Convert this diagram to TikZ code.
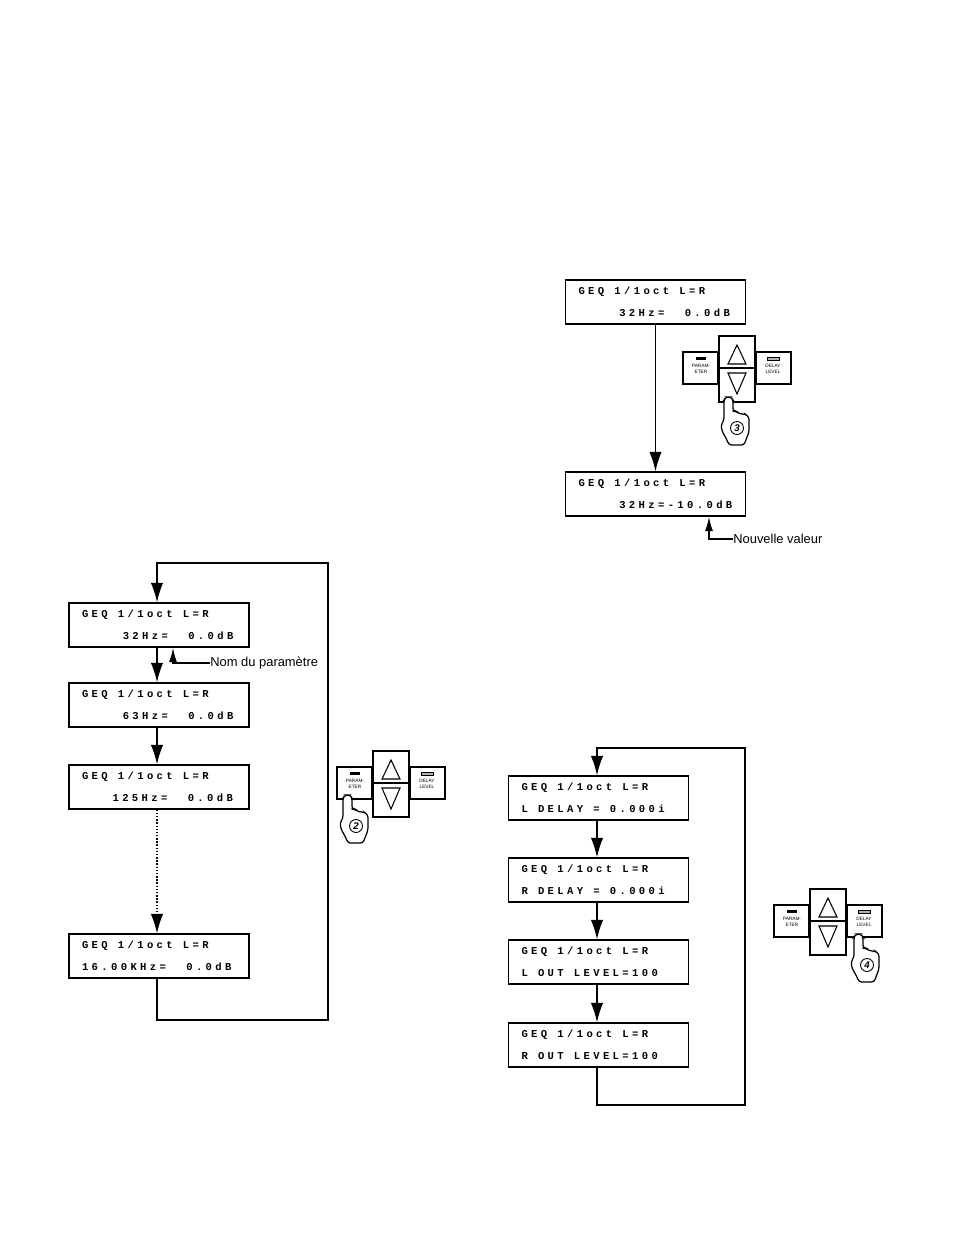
\documentclass[tikz,border=0pt]{standalone}
\usepackage{fontspec}
\setmainfont{Liberation Sans}
\newfontfamily\lcdfont[LetterSpace=32]{Liberation Mono}
\usetikzlibrary{arrows.meta}
% wide display lettering, blanks as wide as one character cell
\newcommand{\lcdtype}{\lcdfont\bfseries\fontsize{6}{12.5}\selectfont\spaceskip=5.8pt\relax\xspaceskip=5.8pt\relax}
\tikzset{
  lcdbox/.style={draw, line width=0.8pt, fill=white, minimum height=0.88cm, inner xsep=0.26cm, inner ysep=0pt,
    text width=3.08cm, align=flush left, font=\lcdtype},
  flowline/.style={line width=0.8pt},
  flowarrow/.style={flowline, -{Latex[length=11pt,width=7pt]}},
  notearrow/.style={line width=0.6pt, {Latex[length=8pt,width=4.5pt]}-},
  notelabel/.style={font=\fontsize{7.35}{9}\selectfont, anchor=west, inner sep=0pt},
  keytext/.style={font=\fontsize{2.7}{3.1}\selectfont, align=center, inner sep=0pt},
  % push buttons with the two arrow keys in the middle
  pics/ctrlpanel/.style={code={
    \draw[line width=1.3pt, fill=white] (-54,-16) rectangle (-19,16);
    \draw[line width=1.3pt, fill=white] (19,-16) rectangle (54,16);
    \draw[line width=1.4pt, fill=white] (-18,-32) rectangle (18,0);
    \draw[line width=1.4pt, fill=white] (-18,0) rectangle (18,34);
    \draw[line width=0.6pt] (0,-23) -- (9,-4) -- (-9,-4) -- cycle;
    \draw[line width=0.6pt] (-9,5) -- (9,5) -- (0,26) -- cycle;
    \fill (-41,-11) rectangle (-31,-8);
    \draw[line width=0.4pt, fill=gray!60] (30,-11) rectangle (42,-8);
    \node[keytext] (-param) at (-36,1) {PARAM-\\ETER};
    \node[keytext] (-delay) at (36,1) {DELAY\\LEVEL};
  }},
  % pressing finger, tip at the origin
  pics/fingerhand/.style={code={
    \draw[line width=0.7pt, fill=white, rounded corners=1.5pt] (-4,2) -- (-4,22) -- (-7,27) -- (-6,33) -- (-1,42)
      -- (1,47) -- (16,47) -- (21,34) -- (21,19) -- (17,16) -- (12,16) -- (7,13) -- (5,13) -- (5,2)
      -- (3,-1) -- (-2,-1) -- cycle;
    \node[circle, draw, line width=0.5pt, fill=white, inner sep=0pt, minimum size=0.26cm,
      font=\bfseries\itshape\fontsize{5.5}{6}\selectfont] (-num) at (9,30) {#1};
  }},
}
\begin{document}
\begin{tikzpicture}[x=0.02cm, y=-0.02cm]
  \useasboundingbox (0,0) rectangle (954,1235);

  % left column
  \coordinate (colA) at (157,0);
  \coordinate (loopAa) at (328,1020);
  \coordinate (loopAb) at (328,563);
  \node[lcdbox] (geqA) at (159,625) {GEQ 1/1oct L=R\\~~~~32Hz=~~0.0dB};
  \node[lcdbox] (geqB) at (159,705) {GEQ 1/1oct L=R\\~~~~63Hz=~~0.0dB};
  \node[lcdbox] (geqC) at (159,787) {GEQ 1/1oct L=R\\~~~125Hz=~~0.0dB};
  \node[lcdbox] (geqD) at (159,956) {GEQ 1/1oct L=R\\16.00KHz=~~0.0dB};
  \draw[flowarrow] (colA |- geqA.south) -- (colA |- geqB.north);
  \draw[flowarrow] (colA |- geqB.south) -- (colA |- geqC.north);
  \draw[flowarrow, densely dotted, line width=0.6pt] (colA |- geqC.south) -- (colA |- geqD.north);
  \draw[flowarrow] (colA |- geqD.south) |- (loopAa) -- (loopAb) -| (colA |- geqA.north);
  \node[notelabel] (noteA) at (210,663) {Nom du paramètre};
  \draw[notearrow] (173,648) |- (noteA.west);

  % top right
  \node[lcdbox] (setA) at (655.5,302) {GEQ 1/1oct L=R\\~~~~32Hz=~~0.0dB};
  \node[lcdbox] (setB) at (655.5,494) {GEQ 1/1oct L=R\\~~~~\mbox{32Hz=-10.0dB}};
  \draw[flowarrow] (setA) -- (setB);
  \node[notelabel] (noteB) at (733,539) {Nouvelle valeur};
  \draw[notearrow] (709,517) |- (noteB.west);

  % bottom right
  \coordinate (colB) at (597,0);
  \coordinate (loopBa) at (745,1105);
  \coordinate (loopBb) at (745,748);
  \node[lcdbox] (outA) at (598.5,798) {GEQ 1/1oct L=R\\L DELAY = 0.000i};
  \node[lcdbox] (outB) at (598.5,880) {GEQ 1/1oct L=R\\R DELAY = 0.000i};
  \node[lcdbox] (outC) at (598.5,962) {GEQ 1/1oct L=R\\L OUT LEVEL=100};
  \node[lcdbox] (outD) at (598.5,1045) {GEQ 1/1oct L=R\\R OUT LEVEL=100};
  \draw[flowarrow] (colB |- outA.south) -- (colB |- outB.north);
  \draw[flowarrow] (colB |- outB.south) -- (colB |- outC.north);
  \draw[flowarrow] (colB |- outC.south) -- (colB |- outD.north);
  \draw[flowarrow] (colB |- outD.south) |- (loopBa) -- (loopBb) -| (colB |- outA.north);

  % key panels and hands
  \pic (panelA) at (391,783) {ctrlpanel};
  \pic (handA) at (347,796) {fingerhand={2}};
  \pic (panelB) at (737,368) {ctrlpanel};
  \pic (handB) at (728,398) {fingerhand={3}};
  \pic (panelC) at (828,921) {ctrlpanel};
  \pic (handC) at (858,935) {fingerhand={4}};
\end{tikzpicture}
\end{document}
